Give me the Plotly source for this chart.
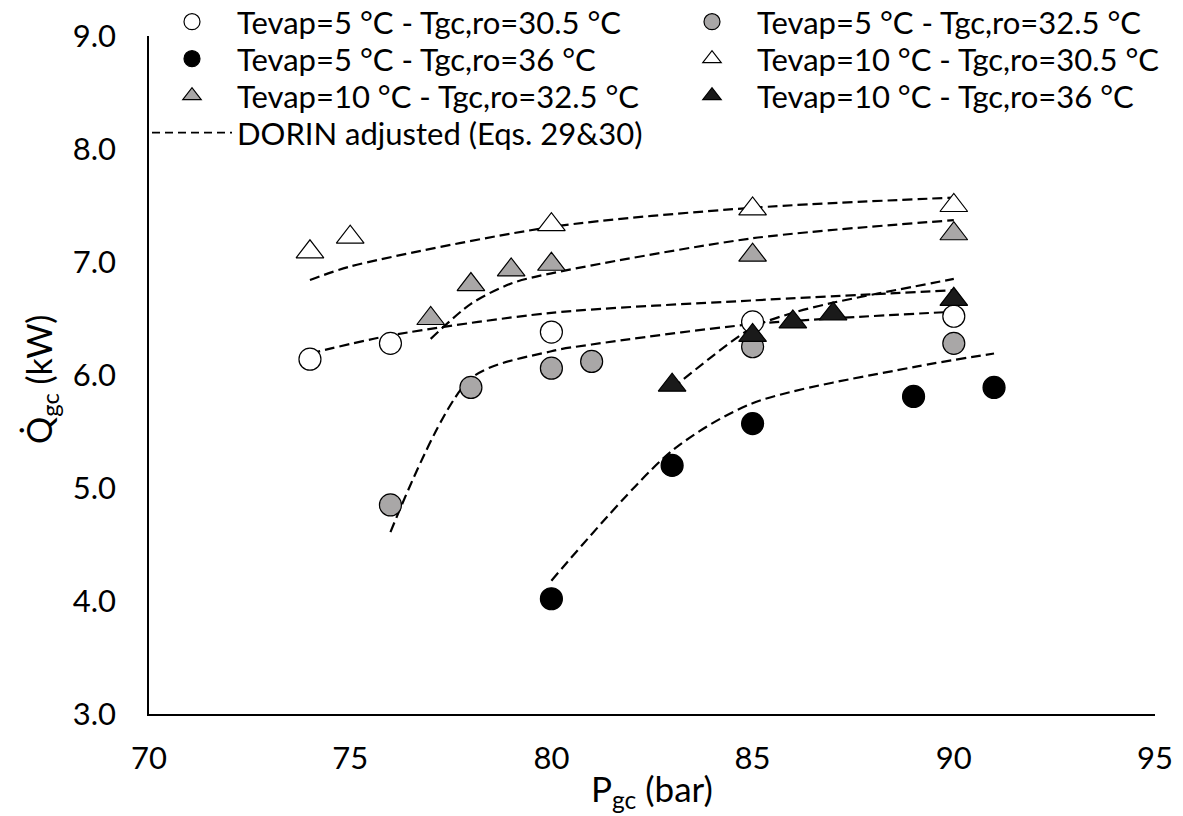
import plotly.graph_objects as go

# Experimental data (P_gc in bar, Q_gc in kW)
p_5_305 = [74, 76, 80, 85, 90]
q_5_305 = [6.14, 6.28, 6.38, 6.47, 6.52]

p_5_325 = [76, 78, 80, 81, 85, 90]
q_5_325 = [4.85, 5.89, 6.06, 6.12, 6.25, 6.28]

p_5_36 = [80, 83, 85, 89, 91]
q_5_36 = [4.02, 5.20, 5.57, 5.81, 5.89]

p_10_305 = [74, 75, 80, 85, 90]
q_10_305 = [7.09, 7.22, 7.33, 7.47, 7.50]

p_10_325 = [77, 78, 79, 80, 85, 90]
q_10_325 = [6.50, 6.80, 6.93, 6.98, 7.06, 7.25]

p_10_36 = [83, 85, 86, 87, 90]
q_10_36 = [5.91, 6.35, 6.47, 6.54, 6.67]

# DORIN adjusted model (Eqs. 29&30)
m_q_5_305 = [6.19, 6.35, 6.55, 6.66, 6.75]
m_q_5_325 = [4.61, 5.97, 6.21, 6.27, 6.45, 6.56]
m_q_5_36 = [4.18, 5.33, 5.75, 6.07, 6.19]
m_q_10_305 = [6.84, 6.96, 7.31, 7.48, 7.57]
m_q_10_325 = [6.32, 6.63, 6.81, 6.90, 7.21, 7.37]
m_q_10_36 = [5.88, 6.42, 6.55, 6.64, 6.85]

names = [
    "Tevap=5 °C - Tgc,ro=30.5 °C",
    "Tevap=5 °C - Tgc,ro=32.5 °C",
    "Tevap=5 °C - Tgc,ro=36 °C",
    "Tevap=10 °C - Tgc,ro=30.5 °C",
    "Tevap=10 °C - Tgc,ro=32.5 °C",
    "Tevap=10 °C - Tgc,ro=36 °C",
]
model_name = "DORIN adjusted (Eqs. 29&30)"
x_title = "P<sub>gc</sub> (bar)"
y_title = "Q\u0307<sub>gc</sub> (kW)"

FONT = "Lato"
FS = 31
GRAY = "#a9a7a7"
W, H = 1183, 816
ML, MR, MT, MB = 149, 28, 36, 102

series = [
    (p_5_305, q_5_305, m_q_5_305, "circle", "white", 22),
    (p_5_325, q_5_325, m_q_5_325, "circle", GRAY, 22),
    (p_5_36, q_5_36, m_q_5_36, "circle", "black", 22),
    (p_10_305, q_10_305, m_q_10_305, "triangle-up", "white", 24),
    (p_10_325, q_10_325, m_q_10_325, "triangle-up", GRAY, 24),
    (p_10_36, q_10_36, m_q_10_36, "triangle-up", "#1a1a1a", 24),
]

# legend placement: (left px, row centre px) for each entry
leg_pos = [(147, 22), (667, 22), (147, 59), (667, 59), (147, 96), (667, 96), (147, 133)]

fig = go.Figure()

for i, (px, qx, mq, sym, col, sz) in enumerate(series):
    fig.add_trace(go.Scatter(
        x=px, y=mq, mode="lines", name=model_name,
        line=dict(color="black", width=2.2, dash="10px,5px", shape="spline", smoothing=0.8),
        showlegend=False,
    ))

for i, (px, qx, mq, sym, col, sz) in enumerate(series):
    fig.add_trace(go.Scatter(
        x=px, y=qx, mode="markers", name=names[i],
        marker=dict(symbol=sym, color=col, size=sz,
                    line=dict(color="black", width=1.2)),
        legend="legend" if i == 0 else f"legend{i + 1}",
    ))

fig.add_trace(go.Scatter(
    x=[None], y=[None], mode="lines", name=model_name,
    line=dict(color="black", width=1.8, dash="8px,5px"),
    legend="legend7",
))

def leg(i):
    lx, ly = leg_pos[i]
    return dict(
        xref="container", yref="container",
        x=lx / W, y=1 - ly / H, xanchor="left", yanchor="middle",
        font=dict(family=FONT, size=FS, color="black"),
        bgcolor="rgba(0,0,0,0)", itemwidth=80,
    )

legends = {("legend" if i == 0 else f"legend{i + 1}"): leg(i) for i in range(7)}

plot_w = W - ML - MR
plot_h = H - MT - MB

fig.update_layout(
    width=W, height=H,
    margin=dict(l=ML, r=MR, t=MT, b=MB, autoexpand=False),
    paper_bgcolor="white", plot_bgcolor="white",
    font=dict(family=FONT, size=FS, color="black"),
    showlegend=True,
    xaxis=dict(
        range=[70, 95], dtick=5, tick0=70,
        showline=True, linecolor="black", linewidth=1.5,
        showgrid=False, zeroline=False, ticks="",
        ticklabelstandoff=16,
        tickfont=dict(family=FONT, size=FS),
    ),
    yaxis=dict(
        range=[3, 9], dtick=1, tick0=3, tickformat=".1f",
        showline=True, linecolor="black", linewidth=1.5,
        showgrid=False, zeroline=False, ticks="",
        ticklabelstandoff=25,
        tickfont=dict(family=FONT, size=FS),
    ),
    annotations=[
        dict(text=x_title, xref="paper", yref="paper",
             x=(652 - ML) / plot_w, y=-(790 - (H - MB)) / plot_h,
             xanchor="center", yanchor="middle", showarrow=False,
             font=dict(family=FONT, size=35, color="black")),
        dict(text=y_title, xref="paper", yref="paper", textangle=-90,
             x=(41 - ML) / plot_w, y=((H - MB) - 380) / plot_h,
             xanchor="center", yanchor="middle", showarrow=False,
             font=dict(family=FONT, size=34, color="black")),
    ],
    **legends,
)

fig.write_html("out.html")
